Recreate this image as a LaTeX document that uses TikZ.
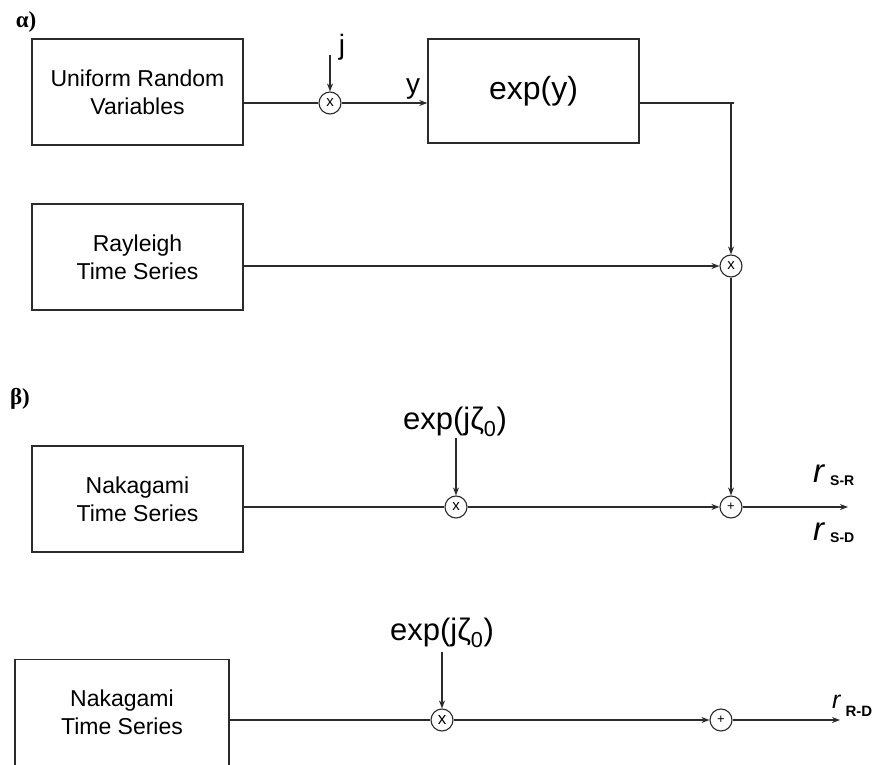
\documentclass[tikz,border=0pt]{standalone}
\usepackage{fontspec}
\setmainfont{Liberation Sans}
\newfontfamily\serifb{Liberation Serif}
\usetikzlibrary{arrows.meta}
\definecolor{ink}{HTML}{2B2B2B}
\newcommand{\fs}[1]{\fontsize{#1}{#1}\selectfont}
\begin{document}
\begin{tikzpicture}[x=1pt,y=-1pt,
  blk/.style={draw=ink, line width=1.4pt, align=center, font=\fontsize{23}{28}\selectfont, inner sep=0pt},
  junc/.style={draw=ink, circle, line width=1.1pt, minimum size=22pt, inner sep=0pt, font=\fs{15}},
  conn/.style={line width=1.3pt, draw=ink},
  arr/.style={conn, -{Stealth[length=8pt,width=6pt]}},
  lbl/.style={inner sep=0pt}
]
\useasboundingbox (0,0) rectangle (887,765);

% panel labels
\node[lbl, font=\serifb\bfseries\fs{23}, anchor=base] (alpha) at (26,28) {α)};
\node[lbl, font=\serifb\bfseries\fs{23}, anchor=base] (beta) at (20,404) {β)};

% part alpha
\node[blk, minimum width=211pt, minimum height=106pt] (unif) at (137.5,92) {Uniform Random\\Variables};
\node[junc] (m1) at (330,103) {x};
\node[lbl, font=\fs{28}] (jl) at (342,47) {j};
\coordinate (jtop) at (330,55);
\node[blk, minimum width=211pt, minimum height=104pt, font=\fs{32}] (expy) at (533.5,91) {exp(y)};
\node[lbl, font=\fs{28}] (yl) at (413,89) {y};
\coordinate (corner) at (731,103);
\coordinate (over) at (734,103);
\node[blk, minimum width=211pt, minimum height=106pt] (ray) at (137.5,257) {Rayleigh\\Time Series};
\node[junc] (m2) at (731,266) {x};

\draw[conn] (unif.east |- m1) -- (m1);
\draw[arr] (jtop) -- (m1);
\draw[arr] (m1) -- (expy.west |- m1);
\draw[conn] (expy.east |- m1) -- (over);
\draw[arr] (corner) -- (m2);
\draw[arr] (ray.east |- m2) -- (m2);

% part beta, first
\node[blk, minimum width=211pt, minimum height=106pt] (nak1) at (137.5,499) {Nakagami\\Time Series};
\node[junc] (m3) at (456,507) {x};
\node[lbl, font=\fs{31}] (e1) at (455,422) {exp(jζ\textsubscript{0})};
\coordinate (e1top) at (456,438);
\node[junc, font=\fs{13}] (p1) at (731,507) {+};
\coordinate (out1) at (848,507);
\node[lbl, anchor=base west] (rsr) at (813,482) {\fs{33}\itshape r\hspace{6pt}\raisebox{-3pt}{\upshape\bfseries\fs{14}S-R}};
\node[lbl, anchor=base west] (rsd) at (813,540) {\fs{33}\itshape r\hspace{6pt}\raisebox{-2pt}{\upshape\bfseries\fs{14}S-D}};

\draw[conn] (nak1.east |- m3) -- (m3);
\draw[arr] (e1top) -- (m3);
\draw[arr] (m3) -- (p1);
\draw[arr] (m2) -- (p1);
\draw[arr] (p1) -- (out1);

% part beta, second
\node[draw=ink, line width=1.4pt, minimum width=214pt, minimum height=140pt, anchor=north, inner sep=0pt] (nak2) at (122,659) {};
\node[lbl, align=center, font=\fontsize{23}{28}\selectfont] (nak2t) at (122,712) {Nakagami\\Time Series};
\node[junc, font=\fs{17}] (m4) at (442,720) {x};
\node[lbl, font=\fs{31}] (e2) at (442,633) {exp(jζ\textsubscript{0})};
\coordinate (e2top) at (442,652);
\node[junc, font=\fs{13}] (p2) at (721,720) {+};
\coordinate (out2) at (840,720);
\node[lbl, anchor=base west] (rrd) at (832,708) {\fs{25}\itshape r\hspace{5pt}\raisebox{-8pt}{\upshape\bfseries\fs{15}R-D}};

\draw[conn] (nak2.east |- m4) -- (m4);
\draw[arr] (e2top) -- (m4);
\draw[arr] (m4) -- (p2);
\draw[arr] (p2) -- (out2);
\end{tikzpicture}
\end{document}
